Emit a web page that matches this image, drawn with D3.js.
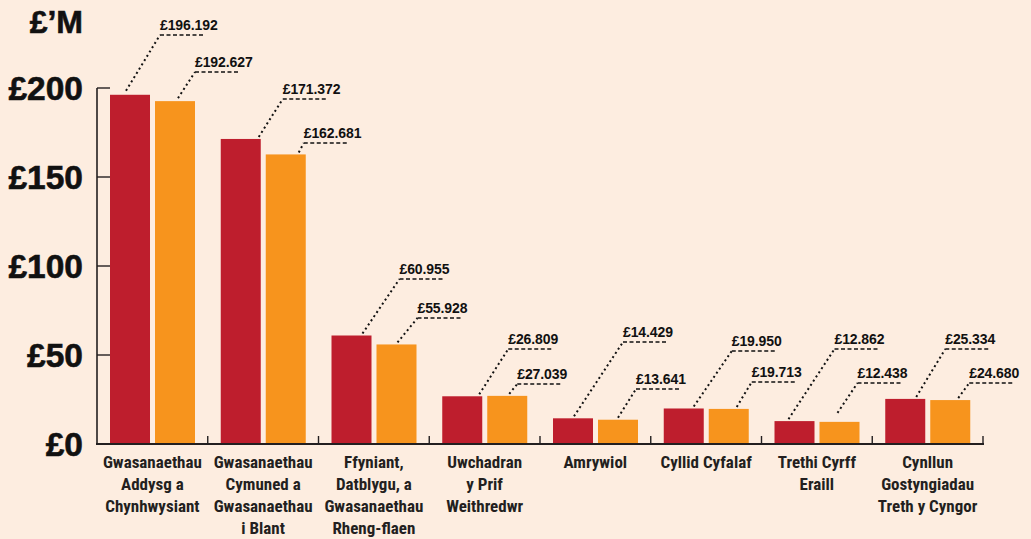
<!DOCTYPE html>
<html>
<head>
<meta charset="utf-8">
<script src="https://cdn.jsdelivr.net/npm/d3@7"></script>
<style>
  html, body { margin: 0; padding: 0; background: #fdede0; }
  svg { display: block; }
</style>
</head>
<body>
<svg id="chart" width="1031" height="539"></svg>
<script>
// ---- data ----
const categories = [
  ["Gwasanaethau", "Addysg a", "Chynhwysiant"],
  ["Gwasanaethau", "Cymuned a", "Gwasanaethau", "i Blant"],
  ["Ffyniant,", "Datblygu, a", "Gwasanaethau", "Rheng-flaen"],
  ["Uwchadran", "y Prif", "Weithredwr"],
  ["Amrywiol"],
  ["Cyllid Cyfalaf"],
  ["Trethi Cyrff", "Eraill"],
  ["Cynllun", "Gostyngiadau", "Treth y Cyngor"]
];
const seriesRed = [196.192, 171.372, 60.955, 26.809, 14.429, 19.950, 12.862, 25.334];
const seriesOrange = [192.627, 162.681, 55.928, 27.039, 13.641, 19.713, 12.438, 24.680];
const valueLabelsRed = ["£196.192", "£171.372", "£60.955", "£26.809", "£14.429", "£19.950", "£12.862", "£25.334"];
const valueLabelsOrange = ["£192.627", "£162.681", "£55.928", "£27.039", "£13.641", "£19.713", "£12.438", "£24.680"];
const yTicks = [0, 50, 100, 150, 200];
const yTickLabels = ["£0", "£50", "£100", "£150", "£200"];
const unitLabel = "£’M";

// ---- layout (annotation callouts: start dx on bar, elbow dx, elbow y, start gap) ----
const calloutRed = [
  [16, 50, 35, 4], [38, 62, 99, 2], [31, 68, 279, 2], [37, 66, 349, 2],
  [21, 70, 342, 2], [30, 68, 351, 2], [14, 60, 349, 2], [31, 60, 349, 2]
];
const calloutOrange = [
  [23, 40, 72, 3], [33, 38, 143, 2], [21, 41, 318, 2], [22, 30, 384, 2],
  [20, 38, 389, 2], [28, 43, 382, 2], [18, 38, 383, 9], [28, 39, 383, 2]
];

const colors = ["#be1e2d", "#f7941d"];
const svg = d3.select("#chart");
svg.append("rect").attr("width", 1031).attr("height", 539).attr("fill", "#fdede0");

const x0 = 97, x1 = 983, yBase = 444, yTop = 88;
const x = d3.scaleBand().domain(d3.range(categories.length)).range([x0, x1]).paddingInner(0).paddingOuter(0);
const xi = d3.scaleBand().domain([0, 1]).range([0, 85]).paddingInner(5 / 45).paddingOuter(0);
const y = d3.scaleLinear().domain([0, 200]).range([yBase, yTop]);

const narrow = "'Liberation Sans Narrow', 'Roboto Condensed', 'DejaVu Sans Condensed', sans-serif";
const bold = "'Liberation Sans', Arial, Helvetica, sans-serif";

// bars
const series = [seriesRed, seriesOrange];
series.forEach((vals, s) => {
  svg.append("g").selectAll("rect").data(vals).join("rect")
    .attr("x", (d, i) => x(i) + 13 + xi(s))
    .attr("y", d => y(d))
    .attr("width", xi.bandwidth())
    .attr("height", d => y(0) - y(d))
    .attr("fill", colors[s]);
});

// y axis
const yAxis = svg.append("g");
yAxis.append("line").attr("x1", x0).attr("x2", x0).attr("y1", y(200)).attr("y2", yBase)
  .attr("stroke", "#231f20").attr("stroke-width", 1.6);
yAxis.selectAll("line.tick").data(yTicks.filter(d => d > 0)).join("line")
  .attr("class", "tick")
  .attr("x1", x0).attr("x2", x0 + 13).attr("y1", d => y(d)).attr("y2", d => y(d))
  .attr("stroke", "#231f20").attr("stroke-width", 1.4);
yAxis.selectAll("text").data(yTicks).join("text")
  .attr("x", 83).attr("y", d => y(d) + 11.5)
  .attr("text-anchor", "end")
  .attr("font-family", bold).attr("font-weight", "bold").attr("font-size", 33.5)
  .attr("stroke", "#111").attr("stroke-width", 0.6)
  .attr("fill", "#111")
  .text((d, i) => yTickLabels[i]);
svg.append("text").attr("x", 83).attr("y", 33).attr("text-anchor", "end")
  .attr("font-family", bold).attr("font-weight", "bold").attr("font-size", 32)
  .attr("stroke", "#111").attr("stroke-width", 0.6)
  .attr("fill", "#111").text(unitLabel);

// x axis
const xAxis = svg.append("g");
xAxis.append("line").attr("x1", x0 - 1).attr("x2", x1 + 1).attr("y1", yBase).attr("y2", yBase)
  .attr("stroke", "#231f20").attr("stroke-width", 2);
xAxis.selectAll("line.tick").data(d3.range(1, categories.length + 1)).join("line")
  .attr("class", "tick")
  .attr("x1", i => x0 + i * x.step()).attr("x2", i => x0 + i * x.step())
  .attr("y1", yBase).attr("y2", yBase - 8)
  .attr("stroke", "#231f20").attr("stroke-width", 1.4);

// category labels
const catG = xAxis.selectAll("text").data(categories).join("text")
  .attr("text-anchor", "middle")
  .attr("font-family", narrow).attr("font-weight", "bold").attr("font-size", 17)
  .attr("fill", "#231f20");
catG.selectAll("tspan").data((d, i) => d.map(t => ({ t, i }))).join("tspan")
  .attr("x", d => x(d.i) + x.bandwidth() / 2)
  .attr("y", (d, j) => 468 + j * 22)
  .text(d => d.t);

// callouts
const labelSets = [valueLabelsRed, valueLabelsOrange];
const calloutSets = [calloutRed, calloutOrange];
series.forEach((vals, s) => {
  const g = svg.append("g");
  vals.forEach((v, i) => {
    const [dxs, dxe, ye, gap] = calloutSets[s][i];
    const bx = x(i) + 13 + xi(s);
    const sx = bx + dxs, sy = y(v) - gap;
    const ex = bx + dxe;
    g.append("line").attr("x1", sx).attr("y1", sy).attr("x2", ex).attr("y2", ye)
      .attr("stroke", "#111").attr("stroke-width", 2).attr("stroke-dasharray", "2,3");
    g.append("line").attr("x1", ex).attr("y1", ye).attr("x2", ex + 45).attr("y2", ye)
      .attr("stroke", "#111").attr("stroke-width", 1.6).attr("stroke-dasharray", "4,2.5");
    g.append("text").attr("x", ex).attr("y", ye - 5)
      .attr("font-family", bold).attr("font-weight", "bold").attr("font-size", 14)
      .attr("letter-spacing", -0.1)
      .attr("fill", "#111").text(labelSets[s][i]);
  });
});
</script>
</body>
</html>
